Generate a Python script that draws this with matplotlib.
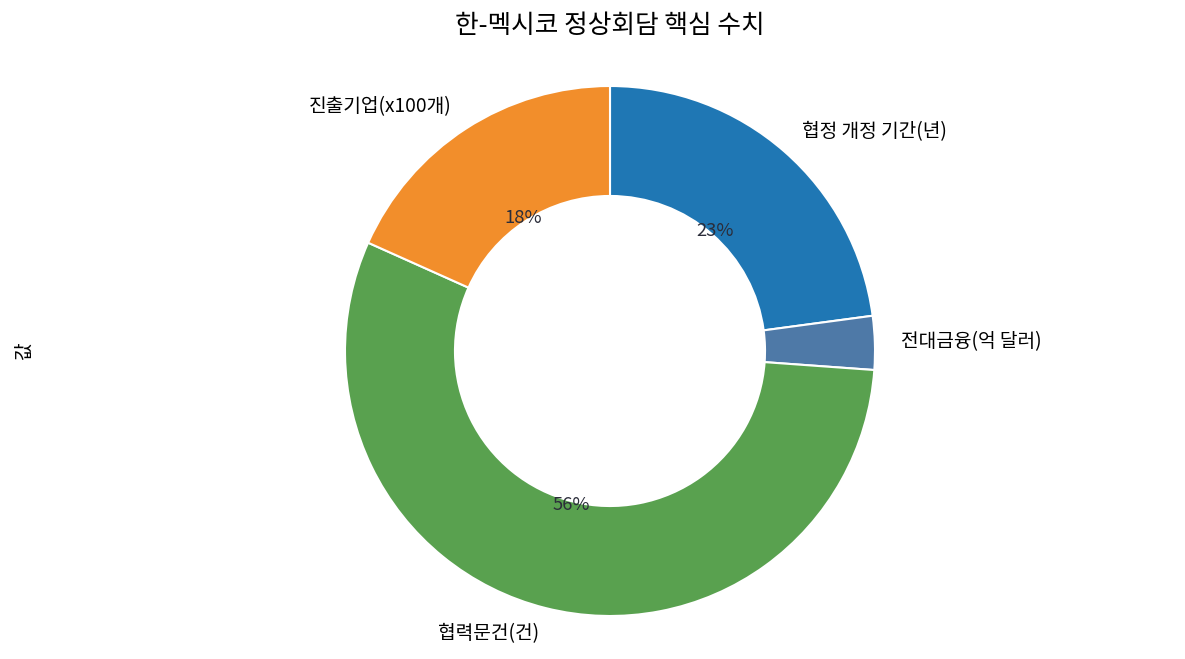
import matplotlib
matplotlib.use("Agg")
import matplotlib.pyplot as plt

plt.rcParams['font.family'] = ['Noto Sans CJK KR', 'DejaVu Sans']

labels = ['협정 개정 기간(년)', '전대금융(억 달러)', '협력문건(건)', '진출기업(x100개)']
values = [7, 1, 17, 5.6]
colors = ['#1f77b4', '#4e79a7', '#59a14f', '#f28e2b']
title = '한-멕시코 정상회담 핵심 수치'
ylabel = '값'

W, H = 1185, 659
fig = plt.figure(figsize=(W / 100, H / 100), dpi=100)

cx, cy, R = 610, 351, 265  # pixel center (from top) and radius
top_px, bot_px = 70, 632
left_px, right_px = 40, 1180
ax = fig.add_axes([left_px / W, 1 - bot_px / H, (right_px - left_px) / W, (bot_px - top_px) / H])

wedges, texts, autotexts = ax.pie(
    values, labels=labels, colors=colors, startangle=90, counterclock=False,
    autopct=lambda p: f'{p:.0f}%' if p > 5 else '',
    pctdistance=0.6, labeldistance=1.1,
    wedgeprops=dict(width=0.415, edgecolor='white', linewidth=1.5),
    textprops=dict(fontsize=13.8),
)
for t in autotexts:
    t.set_color('#2b2d3a')
    t.set_fontsize(13.3)

ax.set_aspect('auto')
ax.set_xlim(-(cx - left_px) / R, (right_px - cx) / R)
ax.set_ylim(-(bot_px - cy) / R, (cy - top_px) / R)
ax.axis('off')

fig.text(24 / W, 1 - cy / H, ylabel, rotation=90, ha='center', va='center', fontsize=13.8)
fig.text(cx / W, 1 - 26 / H, title, ha='center', va='center', fontsize=18.5)

fig.savefig('out.png', dpi=100)
